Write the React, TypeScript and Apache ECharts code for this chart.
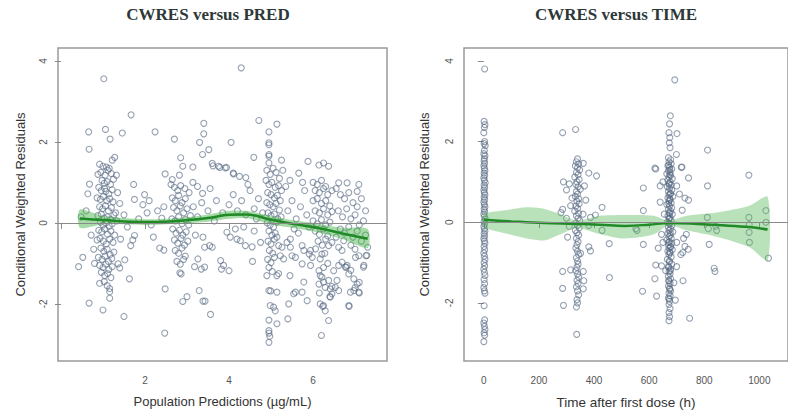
import React, { useEffect, useRef } from 'react';
import * as echarts from 'echarts';

// ---------- CWRES versus PRED (x = population prediction, y = CWRES) ----------
const predPoints: number[][] = [
  [1.02,3.56],[4.29,3.83],[1.67,2.67],[0.66,2.25],[1.06,2.31],[1.17,2.07],[1.46,2.22],[2.24,2.25],[2.70,2.07],[3.40,2.46],[3.40,2.20],[3.30,1.99],[3.52,1.81],[3.37,1.69],[4.05,1.99],[4.71,2.53],[5.14,2.44],[4.95,2.25],[4.95,1.98],[4.95,1.93],[4.95,1.69],[4.95,1.65],[4.95,1.48],[4.59,1.62],[5.25,1.55],[5.88,1.52],[6.14,1.43],[6.25,1.48],[6.37,1.40],[5.66,1.23],[6.61,0.99],[6.81,0.99],[7.09,0.95],[7.05,0.78],[0.67,1.82],[2.85,1.61],[2.90,1.40],[3.14,1.38],[2.48,1.21],[2.65,1.07],[2.82,1.18],[3.14,1.00],[3.37,0.73],[1.73,0.95],[1.99,0.70],[1.75,0.58],[0.64,0.72],[0.68,0.96],[3.60,1.47],[3.75,1.40],[3.62,1.41],[3.78,1.37],[3.94,1.37],[4.10,1.23],[4.25,1.15],[4.40,1.12],[3.91,1.36],[4.11,1.21],
  [0.92,1.45],[1.00,1.40],[1.08,1.38],[1.15,1.35],[1.22,1.55],[1.28,1.62],[0.88,1.20],[0.95,1.25],[1.05,1.18],[1.12,1.30],[1.20,1.22],[1.32,1.18],[0.98,1.05],[1.03,0.98],[1.10,1.02],[1.18,0.95],[1.25,1.08],[0.90,0.88],[0.96,0.80],[1.04,0.85],[1.07,0.78],[1.14,0.72],[1.22,0.82],[1.35,0.75],[0.86,0.62],[0.94,0.58],[1.01,0.65],[1.09,0.55],[1.16,0.60],[1.24,0.52],[1.40,0.48],[0.92,0.40],[0.99,0.35],[1.06,0.42],[1.13,0.30],[1.20,0.38],[1.30,0.25],[0.88,0.18],[0.96,0.22],[1.03,0.12],[1.10,0.15],[1.18,0.08],[1.26,0.20],[0.94,0.02],[1.00,-0.05],[1.07,0.00],[1.15,-0.08],[1.22,-0.02],[1.33,0.05],
  [0.90,-0.18],[0.97,-0.22],[1.04,-0.15],[1.11,-0.28],[1.19,-0.20],[1.28,-0.30],[0.86,-0.42],[0.93,-0.38],[1.01,-0.45],[1.08,-0.52],[1.16,-0.40],[1.24,-0.48],[1.42,-0.40],[0.95,-0.62],[1.02,-0.70],[1.10,-0.65],[1.17,-0.78],[1.26,-0.72],[0.89,-0.85],[0.98,-0.90],[1.05,-0.82],[1.13,-0.95],[1.21,-0.88],[0.92,-1.05],[1.00,-1.10],[1.07,-1.02],[1.14,-1.15],[1.22,-1.08],[0.96,-1.22],[1.04,-1.30],[1.11,-1.25],[1.19,-1.35],[1.03,-1.45],[1.10,-1.55],[1.16,-1.62],[0.92,-1.49],[1.16,-1.86],[1.16,-1.70],[0.67,-1.98],[1.00,-2.15],[1.50,-2.31],[0.52,-0.85],[0.42,-1.08],[0.78,-0.65],[0.80,-1.00],[1.63,-1.38],[1.52,-0.91],[1.36,-1.01],[1.40,-1.11],[1.75,-0.31],[1.71,-0.42],[1.66,-0.56],[0.60,0.30],[0.48,0.15],[0.72,-0.30],[1.50,0.20],[1.58,-0.10],[1.85,0.10],
  [2.05,0.25],[2.15,-0.05],[2.30,0.30],[2.40,0.12],[2.20,-0.35],[2.35,-0.62],[2.45,-0.67],[2.48,-1.63],[2.47,-2.72],[1.95,0.45],[2.10,0.55],[2.45,0.40],
  [2.62,0.95],[2.70,0.88],[2.78,0.80],[2.85,0.92],[2.95,0.85],[3.05,0.75],[2.65,0.62],[2.72,0.55],[2.80,0.68],[2.88,0.50],[2.96,0.60],[2.68,0.38],[2.76,0.30],[2.84,0.42],[2.92,0.25],[3.00,0.35],[3.08,0.18],[2.64,0.10],[2.72,0.05],[2.80,0.15],[2.88,-0.02],[2.96,0.08],[3.04,-0.05],[2.66,-0.15],[2.74,-0.25],[2.82,-0.18],[2.90,-0.30],[2.98,-0.22],[2.70,-0.42],[2.78,-0.50],[2.86,-0.38],[2.94,-0.55],[3.02,-0.45],[2.72,-0.68],[2.80,-0.75],[2.88,-0.62],[2.96,-0.82],[2.76,-0.95],[2.84,-1.02],[2.92,-0.90],[2.83,-1.23],[2.86,-1.26],[2.90,-1.94],[3.00,-1.82],[3.26,-0.89],[3.34,-1.14],[3.18,-1.08],[3.42,-1.09],[3.42,-0.60],[3.54,-0.56],[3.60,-0.60],[3.38,-0.35],[3.80,-0.93],[3.82,-1.14],[3.29,-1.67],[3.38,-1.93],[3.43,-1.93],[3.56,-2.26],[3.15,0.40],[3.25,0.15],[3.35,0.50],[3.50,0.30],[3.20,-0.30],[3.65,0.05],[3.70,0.55],[3.85,0.25],[3.55,0.85],[3.25,0.90],
  [4.15,-0.15],[3.95,-0.23],[4.03,-0.35],[4.19,-0.40],[4.27,-0.44],[4.39,-0.56],[4.55,-0.59],[4.56,-0.95],[4.75,-0.48],[3.87,-1.05],[4.00,-1.18],[4.00,0.45],[4.10,0.70],[4.20,0.30],[4.30,0.55],[4.40,0.20],[4.50,0.80],[4.60,0.35],[4.65,0.10],[4.45,0.95],[4.70,0.60],[4.35,-0.10],[4.60,-0.20],[4.80,0.25],
  [4.90,1.30],[4.98,1.20],[5.05,1.35],[5.12,1.25],[5.20,1.10],[5.28,1.30],[4.88,1.05],[4.95,0.95],[5.02,1.00],[5.10,0.88],[5.18,0.92],[5.25,0.80],[4.92,0.75],[5.00,0.70],[5.08,0.62],[5.15,0.68],[5.22,0.55],[4.90,0.50],[4.97,0.45],[5.05,0.40],[5.12,0.48],[5.20,0.32],[4.93,0.25],[5.00,0.18],[5.08,0.22],[5.16,0.10],[5.24,0.15],[4.91,0.00],[4.98,-0.05],[5.06,-0.10],[5.14,0.02],[4.95,-0.20],[5.02,-0.30],[5.10,-0.25],[4.93,-0.45],[5.00,-0.52],[5.08,-0.40],[4.96,-0.68],[5.04,-0.75],[4.92,-0.90],[5.00,-0.98],[5.08,-0.85],[4.95,-1.10],[5.03,-1.20],[4.90,-1.30],[5.14,-1.30],[5.18,-1.25],[5.45,-1.30],[4.95,-1.67],[4.99,-1.68],[5.14,-1.71],[5.10,-2.17],[4.98,-2.04],[5.06,-2.08],[5.40,-2.37],[5.14,-2.49],[4.95,-2.40],[4.95,-2.66],[4.95,-2.72],[4.97,-2.80],[4.95,-2.95],[5.14,-0.35],[5.18,-0.56],[5.22,-0.81],[5.26,-0.60],[5.30,-0.89],
  [5.42,-2.00],[5.54,-1.75],[5.58,-1.71],[5.78,-1.46],[5.74,-1.71],[5.86,-1.92],[5.46,-0.60],[5.50,-0.81],[5.58,-0.85],[5.46,-0.40],[5.38,-0.48],[5.74,-0.56],[5.78,-0.68],[5.91,-0.77],[5.94,-1.05],[5.74,-1.01],[5.40,0.30],[5.50,0.55],[5.60,0.10],[5.70,0.40],[5.80,0.80],[5.85,0.20],[5.35,0.90],[5.55,-0.15],[5.65,-0.25],[5.90,-0.10],[5.45,1.05],[5.75,1.00],
  [6.14,-1.18],[6.17,-1.30],[6.21,-1.34],[6.25,-1.46],[6.14,-1.51],[6.29,-1.59],[6.37,-1.42],[6.41,-1.63],[6.45,-1.75],[6.41,-1.83],[6.17,-2.00],[6.25,-2.04],[6.29,-2.17],[6.37,-2.41],[6.20,-2.78],[6.21,-0.77],[6.17,-0.89],[5.94,-0.68],[5.98,-0.85],[6.06,-0.64],[6.45,-0.48],[6.37,-0.56],[6.00,1.00],[6.10,0.95],[6.20,1.05],[6.30,0.90],[6.05,0.80],[6.15,0.75],[6.25,0.85],[6.35,0.70],[6.45,0.80],[6.00,0.55],[6.10,0.60],[6.20,0.48],[6.30,0.55],[6.40,0.42],[6.05,0.30],[6.15,0.25],[6.25,0.35],[6.35,0.20],[6.45,0.28],[6.00,0.05],[6.10,-0.02],[6.20,0.08],[6.30,-0.05],[6.40,0.02],[6.05,-0.20],[6.15,-0.28],[6.25,-0.15],[6.35,-0.32],[6.12,-0.45],[6.22,-0.55],[6.30,-0.40],[6.28,-0.75],[6.35,-1.00],[6.25,-1.10],
  [6.61,-1.05],[6.69,-0.97],[6.77,-1.09],[6.85,-1.26],[6.81,-1.05],[6.57,-1.42],[6.53,-1.59],[6.49,-1.18],[6.61,-1.67],[6.97,-1.38],[7.05,-1.51],[6.97,-1.67],[6.89,-1.71],[7.09,-1.71],[6.85,-2.04],[7.01,-0.85],[7.09,-0.81],[7.21,-1.05],[7.26,-0.81],[6.61,-0.60],[6.69,-0.68],[6.73,-0.44],[6.55,0.85],[6.65,0.70],[6.75,0.60],[6.85,0.75],[6.95,0.50],[7.05,0.40],[7.15,0.60],[7.25,0.30],[6.60,0.30],[6.70,0.15],[6.80,0.35],[6.90,0.10],[7.00,0.20],[7.10,-0.05],[7.20,0.05],[6.65,-0.15],[6.75,-0.25],[6.85,-0.10],[6.95,-0.35],[7.05,-0.20],[7.15,-0.45],[7.25,-0.30],[6.90,-0.55],[7.00,-0.65],[6.55,-0.35],[7.30,-0.60],[6.40,-1.82],[6.45,-1.57],[6.15,-1.73],[6.23,-2.06],[6.86,-2.06],[7.00,-1.60],[7.10,-1.47],[7.10,-1.73],[7.20,-1.09],[7.28,-0.80],[6.79,-1.09],[6.90,-1.17],
];

const predSmoothX = [0.45, 1.0, 2.0, 2.8, 3.5, 4.0, 4.4, 5.0, 5.5, 6.1, 6.7, 7.3];
const predSmoothY = [0.11, 0.07, 0.02, 0.05, 0.12, 0.20, 0.21, 0.08, -0.02, -0.12, -0.26, -0.39];
const predBandUpper = [0.33, 0.17, 0.09, 0.12, 0.21, 0.30, 0.30, 0.17, 0.07, -0.02, -0.12, -0.15];
const predBandLower = [-0.12, -0.03, -0.05, -0.02, 0.03, 0.10, 0.12, -0.03, -0.12, -0.23, -0.40, -0.62];

// ---------- CWRES versus TIME (x = time after first dose, h) ----------
const timePoints: number[][] = [
  [3,3.80],[1,2.50],[4,2.42],[2,2.35],[0,2.22],[3,2.00],[1,1.95],[5,1.90],[2,1.78],[0,1.70],[4,1.65],[2,1.58],[1,1.52],[3,1.46],[0,1.40],[2,1.34],[4,1.28],[1,1.22],[3,1.16],[0,1.10],[2,1.04],[5,0.98],[1,0.92],[3,0.86],[0,0.80],[2,0.74],[4,0.68],[1,0.62],[3,0.56],[0,0.50],[2,0.44],[4,0.38],[1,0.32],[3,0.26],[0,0.20],[2,0.14],[5,0.08],[1,0.02],[3,-0.04],[0,-0.10],[2,-0.16],[4,-0.22],[1,-0.28],[3,-0.34],[0,-0.40],[2,-0.46],[4,-0.52],[1,-0.60],[3,-0.68],[0,-0.76],[2,-0.84],[4,-0.92],[1,-1.00],[3,-1.08],[0,-1.16],[2,-1.24],[4,-1.32],[1,-1.42],[3,-1.52],[0,-1.62],[2,-1.70],[4,-1.76],[1,-2.07],[3,-2.42],[0,-2.50],[2,-2.58],[4,-2.66],[1,-2.74],[3,-2.80],[0,-2.96],
  [333,2.30],[340,1.57],[336,1.50],[344,1.45],[332,1.40],[340,1.35],[348,1.30],[336,1.24],[342,1.18],[330,1.12],[346,1.06],[338,1.00],[334,0.94],[342,0.88],[350,0.82],[336,0.76],[340,0.70],[332,0.64],[344,0.58],[338,0.52],[346,0.46],[334,0.40],[340,0.34],[330,0.28],[344,0.22],[336,0.16],[342,0.10],[348,0.04],[334,-0.02],[340,-0.08],[346,-0.14],[332,-0.20],[338,-0.26],[344,-0.32],[336,-0.40],[342,-0.48],[338,-0.56],[334,-0.64],[340,-0.72],[344,-0.80],[336,-0.88],[340,-0.96],[342,-1.04],[338,-1.12],[334,-1.20],[340,-1.28],[344,-1.36],[338,-1.44],[342,-1.52],[336,-1.60],[340,-1.70],[344,-1.80],[338,-1.92],[340,-2.00],[336,-2.10],[337,-2.78],
  [286,2.22],[289,1.00],[361,1.46],[381,1.22],[409,1.15],[286,-1.22],[315,-1.18],[361,-1.22],[286,-1.64],[361,-1.65],[289,-2.06],[363,-1.45],[351,-0.77],[381,-0.61],[387,-0.71],[455,-0.53],[456,-1.37],[429,0.37],[429,-0.20],[405,0.18],[387,0.12],[381,-0.08],[286,0.32],[280,0.24],[315,0.41],[304,-0.37],[300,0.80],[310,0.95],[320,0.60],[365,0.90],[370,0.55],[360,0.20],[300,0.10],[310,-0.10],
  [693,3.53],[677,2.64],[674,2.44],[672,2.22],[701,2.20],[675,2.10],[673,1.97],[676,1.85],[699,1.68],[670,1.60],[678,1.55],[672,1.50],[680,1.45],[668,1.40],[674,1.36],[682,1.32],[670,1.28],[676,1.24],[664,1.20],[678,1.16],[672,1.12],[684,1.08],[668,1.04],[676,1.00],[672,0.96],[680,0.92],[666,0.88],[674,0.84],[682,0.80],[670,0.76],[678,0.72],[672,0.68],[686,0.64],[668,0.60],[676,0.56],[672,0.52],[680,0.48],[664,0.44],[674,0.40],[682,0.36],[670,0.32],[678,0.28],[672,0.24],[684,0.20],[668,0.16],[676,0.12],[672,0.08],[680,0.04],[666,0.00],[674,-0.04],[682,-0.08],[670,-0.12],[678,-0.16],[672,-0.20],[686,-0.24],[668,-0.28],[676,-0.32],[672,-0.36],[680,-0.40],[664,-0.44],[674,-0.48],[682,-0.52],[670,-0.56],[678,-0.60],[672,-0.64],[684,-0.68],[668,-0.72],[676,-0.76],[672,-0.80],[680,-0.86],[666,-0.92],[674,-0.98],[682,-1.04],[670,-1.10],[678,-1.16],[672,-1.22],[676,-1.28],[670,-1.34],[678,-1.40],[672,-1.46],[676,-1.52],[670,-1.58],[674,-1.64],[678,-1.70],[672,-1.76],[676,-1.82],[670,-1.88],[674,-1.96],[672,-2.04],[676,-2.14],[672,-2.24],[674,-2.34],[672,-2.44],
  [671,1.42],[675,1.18],[673,0.94],[677,0.70],[671,0.46],[675,0.22],[673,-0.02],[677,-0.26],[671,-0.50],[675,-0.74],[673,-0.96],[677,-1.20],[671,-1.44],[675,-1.66],[673,-1.90],[675,0.58],[673,0.10],[677,-0.62],[671,-1.12],[675,1.30],
  [624,1.32],[719,1.37],[743,1.10],[743,0.55],[579,0.85],[621,1.34],[717,1.36],[640,0.90],[650,1.00],[700,0.90],[710,0.70],[720,0.30],[730,0.60],[640,0.50],[655,0.20],[645,-0.30],[700,-0.50],[715,-0.80],[725,-0.40],[735,-0.30],[742,-0.67],[730,-0.60],[722,-0.75],[579,0.29],[552,-0.16],[579,-0.55],[576,-1.71],[627,-1.83],[621,-1.40],[624,-1.06],[645,-1.08],[633,-0.64],[747,-2.38],[723,-1.45],[695,-1.93],[556,-0.20],[650,-0.50],[660,-1.20],[690,-1.50],[700,-1.10],
  [811,0.12],[815,-0.16],[845,-0.20],[818,-0.55],[836,-1.14],[839,-1.22],[962,0.12],[963,-0.06],[963,-0.25],[964,-0.50],[1024,0.29],[1024,0.00],[1033,-0.89],[812,1.79],[812,0.90],[962,1.17],[842,-0.10],
];

const timeSmoothX = [0, 100, 219, 337, 420, 513, 600, 672, 750, 845, 964, 1030];
const timeSmoothY = [0.06, 0.02, -0.02, -0.04, -0.06, -0.09, -0.06, -0.02, -0.03, -0.07, -0.12, -0.18];
const timeBandX = [0, 80, 160, 220, 280, 337, 420, 500, 560, 617, 672, 737, 845, 964, 1030];
const timeBandUpper = [0.20, 0.30, 0.37, 0.33, 0.20, 0.04, 0.16, 0.18, 0.18, 0.16, 0.04, 0.16, 0.24, 0.41, 0.63];
const timeBandLower = [-0.12, -0.28, -0.41, -0.45, -0.29, -0.14, -0.29, -0.40, -0.38, -0.30, -0.08, -0.20, -0.36, -0.62, -0.95];

const predTicks = [0, 2, 4, 6];
const predLabels = [2, 4, 6];
const timeTicks = [0, 200, 400, 600, 800, 1000];
const yTicks = [-2, 0, 2, 4];

const SANS = '"Liberation Sans", Arial, sans-serif';
const SERIF = '"Liberation Serif", "Times New Roman", serif';

function bandSeries(axis: number, xs: number[], up: number[], lo: number[], fill: string) {
  return {
    type: 'custom',
    xAxisIndex: axis,
    yAxisIndex: axis,
    silent: true,
    z: 3,
    clip: true,
    data: [[xs[0], lo[0]]],
    renderItem: (_p: any, api: any) => {
      const pts: number[][] = [];
      xs.forEach((x, i) => pts.push(api.coord([x, up[i]])));
      for (let i = xs.length - 1; i >= 0; i--) pts.push(api.coord([xs[i], lo[i]]));
      return { type: 'polygon', shape: { points: pts, smooth: 0.25 }, style: { fill } };
    },
  };
}

function scatterSeries(axis: number, data: number[][]) {
  return {
    type: 'scatter',
    xAxisIndex: axis,
    yAxisIndex: axis,
    data,
    symbol: 'circle',
    symbolSize: 6,
    z: 2,
    itemStyle: { color: 'rgba(0,0,0,0)', borderColor: 'rgba(85,104,130,0.78)', borderWidth: 1.1 },
    markLine: {
      silent: true,
      symbol: 'none',
      label: { show: false },
      lineStyle: { color: '#8a8a8a', width: 1, type: 'solid' },
      data: [{ yAxis: 0 }],
    },
  };
}

function lineSeries(axis: number, xs: number[], ys: number[]) {
  return {
    type: 'line',
    xAxisIndex: axis,
    yAxisIndex: axis,
    data: xs.map((x, i) => [x, ys[i]]),
    smooth: 0.4,
    showSymbol: false,
    silent: true,
    z: 4,
    lineStyle: { color: '#1f8a26', width: 2.5 },
  };
}

function yAxis(grid: number, min: number, max: number, nameGap: number) {
  return {
    type: 'value',
    gridIndex: grid,
    min,
    max,
    splitLine: { show: false },
    axisLine: { show: false },
    axisTick: { show: true, length: 6, customValues: yTicks, lineStyle: { color: '#888' } },
    axisLabel: { customValues: yTicks, rotate: 90, margin: 10, fontSize: 10, color: '#555', fontFamily: SANS },
    name: 'Conditional Weighted Residuals',
    nameLocation: 'middle',
    nameGap,
    nameTextStyle: { fontSize: 13, color: '#333', fontFamily: SANS },
  };
}

export default function App() {
  const ref = useRef<HTMLDivElement>(null);
  useEffect(() => {
    if (!ref.current) return;
    const chart = echarts.init(ref.current, null, { renderer: 'svg' });
    const option: any = {
      animation: false,
      backgroundColor: '#fff',
      graphic: [
        { type: 'text', x: 208, y: 14, style: { text: 'CWRES versus PRED', font: `bold 17px ${SERIF}`, fill: '#2e3838', align: 'center', verticalAlign: 'middle' } },
        { type: 'text', x: 616, y: 14, style: { text: 'CWRES versus TIME', font: `bold 17px ${SERIF}`, fill: '#2e3838', align: 'center', verticalAlign: 'middle' } },
      ],
      grid: [
        { left: 58, top: 48, width: 329, height: 313, show: true, borderColor: '#9a9a9a', borderWidth: 1.5, backgroundColor: 'transparent' },
        { left: 464, top: 48, width: 328, height: 316, show: true, borderColor: '#9a9a9a', borderWidth: 1.5, backgroundColor: 'transparent' },
      ],
      xAxis: [
        {
          type: 'value', gridIndex: 0, min: -0.07, max: 7.76,
          splitLine: { show: false }, axisLine: { show: false },
          axisTick: { show: true, length: 6, customValues: predTicks, lineStyle: { color: '#888' } },
          axisLabel: { customValues: predLabels, margin: 14, fontSize: 10, color: '#555', fontFamily: SANS },
          name: 'Population Predictions (µg/mL)', nameLocation: 'middle', nameGap: 34,
          nameTextStyle: { fontSize: 13, color: '#333', fontFamily: SANS },
        },
        {
          type: 'value', gridIndex: 1, min: -72, max: 1104,
          splitLine: { show: false }, axisLine: { show: false },
          axisTick: { show: true, length: 6, customValues: timeTicks, lineStyle: { color: '#888' } },
          axisLabel: { customValues: timeTicks, formatter: (v: number) => String(v), margin: 14, fontSize: 10, color: '#555', fontFamily: SANS },
          name: 'Time after first dose (h)', nameLocation: 'middle', nameGap: 34,
          nameTextStyle: { fontSize: 13.5, color: '#333', fontFamily: SANS },
        },
      ],
      yAxis: [yAxis(0, -3.41, 4.32, 31), yAxis(1, -3.44, 4.32, 33)],
      series: [
        scatterSeries(0, predPoints),
        bandSeries(0, predSmoothX, predBandUpper, predBandLower, 'rgba(60,175,60,0.45)'),
        lineSeries(0, predSmoothX, predSmoothY),
        scatterSeries(1, timePoints),
        bandSeries(1, timeBandX, timeBandUpper, timeBandLower, 'rgba(90,185,90,0.42)'),
        lineSeries(1, timeSmoothX, timeSmoothY),
      ],
    };
    chart.setOption(option);
    return () => chart.dispose();
  }, []);
  return <div ref={ref} style={{ position: 'absolute', left: 0, top: 0, width: 788, height: 414 }} />;
}
